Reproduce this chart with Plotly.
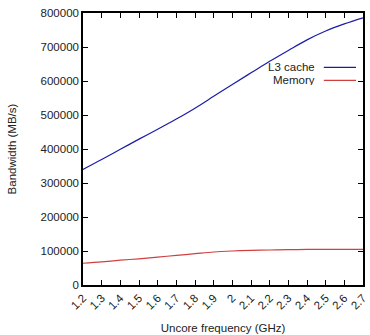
import plotly.graph_objects as go

freq = [1.2, 1.3, 1.4, 1.5, 1.6, 1.7, 1.8, 1.9, 2.0, 2.1, 2.2, 2.3, 2.4, 2.5, 2.6, 2.7]
l3_cache = [340000, 369000, 399000, 429000, 458000, 488000, 520000, 555000, 590000,
            624000, 658000, 690000, 721000, 747000, 768000, 786000]
memory = [64000, 68000, 73000, 77000, 82000, 87000, 92000, 97000, 100000,
          102000, 103000, 104000, 104500, 105000, 105000, 105000]
x_ticks = [1.2, 1.3, 1.4, 1.5, 1.6, 1.7, 1.8, 1.9, 2.0, 2.1, 2.2, 2.3, 2.4, 2.5, 2.6, 2.7]
x_labels = ["1.2", "1.3", "1.4", "1.5", "1.6", "1.7", "1.8", "1.9", "2", "2.1", "2.2",
            "2.3", "2.4", "2.5", "2.6", "2.7"]
y_ticks = [0, 100000, 200000, 300000, 400000, 500000, 600000, 700000, 800000]
series_names = ["L3 cache", "Memory"]
colors = ["#1c1ca8", "#d04040"]

font = dict(family="Liberation Sans, Arial, sans-serif", size=11.5, color="#222")

fig = go.Figure()
fig.add_trace(go.Scatter(x=freq, y=l3_cache, mode="lines", line=dict(color=colors[0], width=1.2, shape="spline"),
                         name=series_names[0], showlegend=False))
fig.add_trace(go.Scatter(x=freq, y=memory, mode="lines", line=dict(color=colors[1], width=1.2, shape="spline"),
                         name=series_names[1], showlegend=False))

# custom legend (text left, line sample right)
legend_y = [0.800, 0.752]
for name, col, ly in zip(series_names, colors, legend_y):
    fig.add_annotation(xref="paper", yref="paper", x=0.832, y=ly, text=name, showarrow=False,
                       xanchor="right", yanchor="middle", font=font, height=10, borderpad=0)
    fig.add_shape(type="line", xref="paper", yref="paper", x0=0.86, x1=0.975, y0=ly, y1=ly,
                  line=dict(color=col, width=1.2))

fig.update_xaxes(range=[1.2, 2.7], tickvals=x_ticks, ticktext=x_labels, tickangle=-45,
                 ticks="inside", ticklen=5, tickcolor="#000", showline=True, linecolor="#000",
                 linewidth=1.5, mirror="ticks", showgrid=False, zeroline=False,
                 ticklabeloverflow="allow",
                 title=dict(text="Uncore frequency (GHz)", font=font, standoff=13), tickfont=font)
fig.update_yaxes(range=[0, 800000], tickvals=y_ticks, ticks="inside", ticklen=5, tickcolor="#000",
                 showline=True, linecolor="#000", linewidth=1.5, mirror="ticks", showgrid=False,
                 zeroline=False, tickformat="d",
                 title=dict(text="Bandwidth (MB/s)", font=font, standoff=22), tickfont=font)
fig.update_layout(width=370, height=335, margin=dict(l=83, r=2, t=13, b=47),
                  plot_bgcolor="white", paper_bgcolor="white", font=font)
fig.write_html("out.html")
